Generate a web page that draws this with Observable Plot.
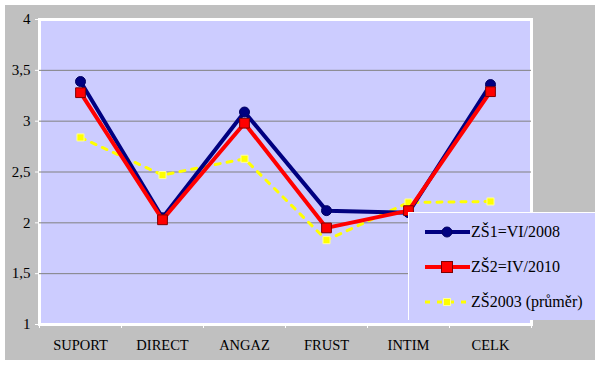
<!DOCTYPE html>
<html><head><meta charset="utf-8">
<script src="https://cdn.jsdelivr.net/npm/d3@7"></script>
<script src="https://cdn.jsdelivr.net/npm/@observablehq/plot@0.6"></script>
<style>
body{margin:0;background:#fff;font-family:"Liberation Serif",serif;}
#wrap{position:absolute;left:5px;top:5px;width:590px;height:355px;background:#c0c0c0;}
#wrap svg text{font-family:"Liberation Serif",serif !important;}
#legend{position:absolute;left:408px;top:212px;width:186px;height:107px;background:#ccccff;border-left:1px solid #fff;border-top:1px solid #fff;font-size:16px;color:#000;}
.row{position:absolute;left:16px;height:20px;}
.row svg{position:absolute;left:0;top:0;}
.row span{position:absolute;left:46px;top:0;white-space:nowrap;line-height:20px;}
</style></head>
<body>
<div id="wrap"></div>
<div id="legend"></div>
<script>
const categories = ["SUPORT","DIRECT","ANGAZ","FRUST","INTIM","CELK"];
const zs1 = [3.39, 2.05, 3.09, 2.12, 2.10, 3.36];
const zs2 = [3.28, 2.03, 2.98, 1.95, 2.12, 3.29];
const zs2003 = [2.84, 2.47, 2.63, 1.83, 2.20, 2.21];
const seriesNames = ["ZŠ1=VI/2008","ZŠ2=IV/2010","ZŠ2003 (průměr)"];
const yTicks = [1,1.5,2,2.5,3,3.5,4];

const rows = (vals) => categories.map((c,i)=>({cat:c, x:i+0.5, y:vals[i]}));
const d1 = rows(zs1), d2 = rows(zs2), d3s = rows(zs2003);
const fmt = v => String(v).replace(".", ",");

const chart = Plot.plot({
  width: 590, height: 355,
  marginLeft: 34, marginRight: 64, marginTop: 14, marginBottom: 36,
  style: {background: "transparent", fontFamily: "'Liberation Serif', serif", fontSize: "14px", color: "#000"},
  x: {type: "linear", domain: [0, categories.length], axis: null},
  y: {domain: [1, 4], axis: null},
  marks: [
    Plot.frame({fill: "#ccccff", stroke: "#ffffff", strokeWidth: 3}),
    Plot.ruleY(yTicks.slice(1, -1), {stroke: "#808080", strokeWidth: 1}),
    Plot.axisY({ticks: yTicks, tickFormat: fmt, tickSize: 4, tickPadding: 5, stroke: "#ffffff", fontSize: 15, label: null}),
    Plot.axisX({ticks: d3.range(categories.length + 1), tickFormat: () => "", tickSize: 4, stroke: "#ffffff", label: null}),
    Plot.axisX({ticks: categories.map((c,i)=>i+0.5), tickFormat: v => categories[Math.round(v-0.5)], tickSize: 0, tickPadding: 15, fontSize: 14.5, label: null}),
    Plot.line(d3s, {x: "x", y: "y", stroke: "#ffff00", strokeWidth: 3, strokeDasharray: "5,7"}),
    Plot.dot(d3s, {x: "x", y: "y", symbol: "square", r: 4, fill: "#ffff00", stroke: "#ffff99", strokeWidth: 1}),
    Plot.line(d1, {x: "x", y: "y", stroke: "#000080", strokeWidth: 4}),
    Plot.dot(d1, {x: "x", y: "y", symbol: "circle", r: 5, fill: "#000080", stroke: "#000060", strokeWidth: 1}),
    Plot.line(d2, {x: "x", y: "y", stroke: "#ff0000", strokeWidth: 4}),
    Plot.dot(d2, {x: "x", y: "y", symbol: "square", r: 5.5, fill: "#ff0000", stroke: "#800000", strokeWidth: 1})
  ]
});
document.getElementById("wrap").appendChild(chart);

// legend
const leg = document.getElementById("legend");
const styles = [
  {stroke:"#000080", dash:null, w:4, sym:"circle", fill:"#000080"},
  {stroke:"#ff0000", dash:null, w:4, sym:"square", fill:"#ff0000"},
  {stroke:"#ffff00", dash:"5,7", w:3, sym:"square", fill:"#ffff00"}
];
seriesNames.forEach((name, i) => {
  const s = styles[i];
  const row = document.createElement("div");
  row.className = "row";
  row.style.top = (9 + i * 35) + "px";
  let marker = "";
  if (s.sym === "circle") marker = `<circle cx="22" cy="10" r="5" fill="${s.fill}" stroke="#000060"/>`;
  else if (i === 1) marker = `<rect x="16.5" y="4.5" width="11" height="11" fill="${s.fill}" stroke="#800000"/>`;
  else marker = `<rect x="18.5" y="6.5" width="7" height="7" fill="${s.fill}" stroke="#ffff99"/>`;
  row.innerHTML = `<svg width="46" height="20"><line x1="0" y1="10" x2="45" y2="10" stroke="${s.stroke}" stroke-width="${s.w}" ${s.dash ? `stroke-dasharray="${s.dash}"` : ""}/>${marker}</svg><span>${name}</span>`;
  leg.appendChild(row);
});
</script>
</body></html>
